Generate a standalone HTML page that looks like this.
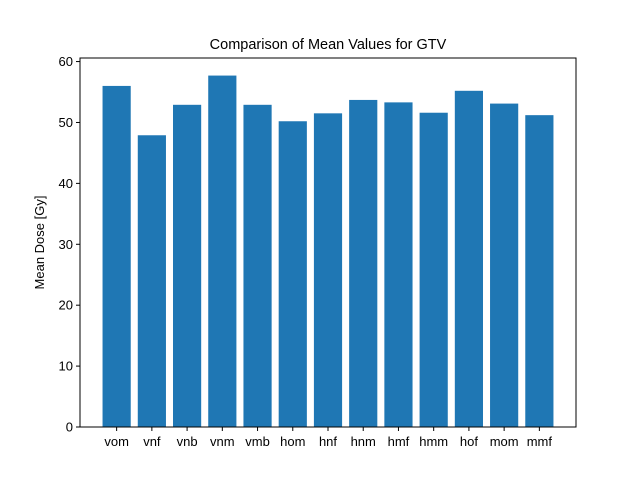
<!DOCTYPE html>
<html><head><meta charset="utf-8"><style>
body{margin:0;background:#fff;}
svg{display:block;font-family:"Liberation Sans","DejaVu Sans",sans-serif;}
</style></head><body>
<svg id="chart" width="640" height="480">
<rect x="0" y="0" width="640" height="480" fill="#fff"/>
<text x="328" y="49" text-anchor="middle" font-size="14.5">Comparison of Mean Values for GTV</text>
<text transform="translate(44,242.5) rotate(-90)" text-anchor="middle" font-size="13">Mean Dose [Gy]</text>
<g id="bars"></g>
<g id="xticks"></g>
<g id="yticks"></g>
<rect x="80" y="58" width="496" height="369" fill="none" stroke="#000" stroke-width="1"/>
</svg>
<script>
const categories = ["vom","vnf","vnb","vnm","vmb","hom","hnf","hnm","hmf","hmm","hof","mom","mmf"];
const values = [56.0, 47.9, 52.9, 57.7, 52.9, 50.2, 51.5, 53.7, 53.3, 51.6, 55.2, 53.1, 51.2];
const yTicks = [0,10,20,30,40,50,60];

const ns="http://www.w3.org/2000/svg";
const L=80,R=576,T=58,B=427;
const yMax=Math.max(...values)*1.05;
const xMin=-1.04, xMax=categories.length-1+1.04;
function xs(i){return L+(i-xMin)/(xMax-xMin)*(R-L);}
function ys(v){return B-v/yMax*(B-T);}
const bw=0.8*(R-L)/(xMax-xMin);
const gb=document.getElementById('bars'),gx=document.getElementById('xticks'),gy=document.getElementById('yticks');
function mk(tag,attrs,parent){const e=document.createElementNS(ns,tag);for(const k in attrs)e.setAttribute(k,attrs[k]);parent.appendChild(e);return e;}
categories.forEach((c,i)=>{
  const r=mk('rect',{x:xs(i)-bw/2,y:ys(values[i]),width:bw,height:B-ys(values[i]),fill:'#1f77b4'},gb);
  
  
  const t=mk('line',{x1:xs(i),x2:xs(i),y1:B,y2:B+4,stroke:'#000'},gx);
  
  
  const l=mk('text',{x:xs(i),y:B+19,'text-anchor':'middle','font-size':'13'},gx);
  l.textContent=c;
  
  
});
yTicks.forEach(v=>{
  const t=mk('line',{x1:L-4,x2:L,y1:ys(v),y2:ys(v),stroke:'#000'},gy);
  
  
  const l=mk('text',{x:L-7,y:ys(v)+4.5,'text-anchor':'end','font-size':'13'},gy);
  l.textContent=v;
  
  
});
</script>
</body></html>
